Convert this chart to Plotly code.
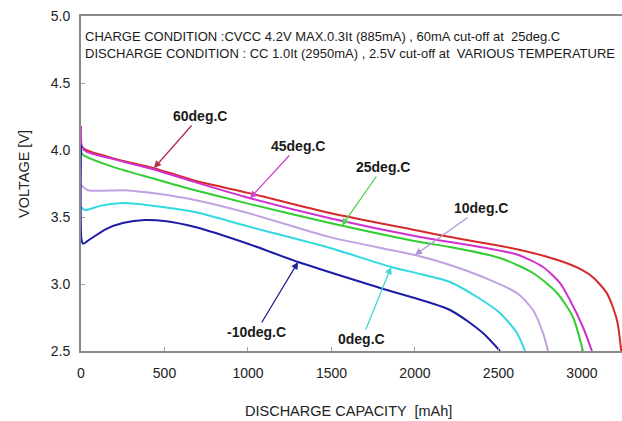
import numpy as np
import plotly.graph_objects as go

# ---------------- data ----------------
labels = ["60deg.C", "45deg.C", "25deg.C", "10deg.C", "0deg.C", "-10deg.C"]

cap_60 = [0, 30, 200, 437, 683, 1000, 1491, 2030, 2210, 2611, 2800, 2911, 3000, 3066, 3150, 3210, 3235]
v_60 = [4.03, 4.00, 3.935, 3.865, 3.77, 3.68, 3.53, 3.395, 3.35, 3.26, 3.20, 3.155, 3.105, 3.05, 2.93, 2.73, 2.50]

cap_45 = [0, 5, 30, 200, 437, 683, 1012, 1491, 2030, 2210, 2611, 2767, 2869, 2928, 3006, 3060]
v_45 = [4.18, 4.03, 3.99, 3.93, 3.855, 3.76, 3.64, 3.49, 3.35, 3.313, 3.22, 3.127, 3.007, 2.881, 2.679, 2.50]

cap_25 = [0, 10, 30, 200, 437, 683, 1000, 1491, 2030, 2210, 2509, 2707, 2851, 2946, 3006]
v_25 = [3.99, 3.965, 3.95, 3.87, 3.785, 3.70, 3.60, 3.455, 3.313, 3.276, 3.194, 3.082, 2.933, 2.754, 2.50]

cap_10 = [0, 42, 263, 450, 683, 1000, 1491, 2000, 2210, 2407, 2611, 2707, 2767, 2797]
v_10 = [3.74, 3.70, 3.70, 3.675, 3.627, 3.53, 3.35, 3.216, 3.142, 3.052, 2.933, 2.806, 2.634, 2.50]

cap_0 = [0, 24, 120, 263, 450, 683, 1000, 1491, 1857, 2030, 2210, 2372, 2509, 2611, 2659]
v_0 = [3.575, 3.552, 3.585, 3.604, 3.58, 3.537, 3.43, 3.269, 3.127, 3.075, 3.015, 2.903, 2.784, 2.634, 2.50]

cap_m10 = [0, 3, 12, 50, 150, 250, 383, 500, 683, 1000, 1300, 1791, 2210, 2407, 2509]
v_m10 = [4.04, 3.33, 3.30, 3.33, 3.41, 3.455, 3.478, 3.47, 3.425, 3.30, 3.164, 2.97, 2.806, 2.634, 2.50]

x_ticks = [0, 500, 1000, 1500, 2000, 2500, 3000]
y_ticks = [2.5, 3.0, 3.5, 4.0, 4.5, 5.0]

header_lines = [
    "CHARGE CONDITION :CVCC 4.2V MAX.0.3It (885mA) , 60mA cut-off at  25deg.C",
    "DISCHARGE CONDITION : CC 1.0It (2950mA) , 2.5V cut-off at  VARIOUS TEMPERATURE",
]
x_title = "DISCHARGE CAPACITY  [mAh]"
y_title = "VOLTAGE [V]"

# ---------------- layout / style ----------------
W, H = 622, 421
ML, MR, MT = 81, 0, 16
PH = 335
MB = H - MT - PH
X_MAX = 3240
Y_MIN, Y_MAX = 2.5, 5.0
PW = W - ML - MR
SX = PW / X_MAX
SY = PH / (Y_MAX - Y_MIN)

FONT = "Liberation Sans, Arial, Helvetica, sans-serif"

colors = ["#d42a2a", "#d030d0", "#33cc33", "#c0a2e2", "#33d8e0", "#1c1ca8"]
arrow_colors = ["#b23048", "#cc44cc", "#55cc55", "#b094d4", "#44d4d8", "#24249a"]
caps = [cap_60, cap_45, cap_25, cap_10, cap_0, cap_m10]
volts = [v_60, v_45, v_25, v_10, v_0, v_m10]

# arrow tip capacity on each curve, label centre in pixels
tips = [437, 1012, 1563, 2000, 1857, 1300]
label_px = [(200, 116), (298, 146), (383, 167), (481, 208), (362, 339), (256, 332)]

fig = go.Figure()
for name, c, v, col in zip(labels, caps, volts, colors):
    fig.add_trace(go.Scatter(
        x=c, y=v, mode="lines", name=name,
        line=dict(color=col, width=2, shape="spline", smoothing=0.7),
        hoverinfo="x+y+name",
    ))

annotations = []
for name, c, v, tip, (lx, ly), acol in zip(labels, caps, volts, tips, label_px, arrow_colors):
    ty = float(np.interp(tip, c, v))
    tpx = ML + tip * SX
    tpy = MT + (Y_MAX - ty) * SY
    annotations.append(dict(
        x=tip, y=ty, xref="x", yref="y",
        ax=lx - tpx, ay=ly - tpy,
        text="<b>" + name + "</b>",
        showarrow=True, arrowhead=2, arrowsize=1.1, arrowwidth=1.3,
        arrowcolor=acol, font=dict(family=FONT, size=14, color="#1a1a1a"),
    ))

def paper_x(px):
    return (px - ML) / PW

def paper_y(py):
    return (H - MB - py) / PH

for i, line in enumerate(header_lines):
    annotations.append(dict(
        x=paper_x(83), y=paper_y(37 + 16 * i), xref="paper", yref="paper",
        xanchor="left", yanchor="middle", showarrow=False,
        text=line, font=dict(family=FONT, size=13, color="#1a1a1a"),
    ))

annotations.append(dict(
    x=paper_x(348), y=paper_y(411), xref="paper", yref="paper",
    xanchor="center", yanchor="middle", showarrow=False,
    text=x_title, font=dict(family=FONT, size=14.5, color="#222"),
))
annotations.append(dict(
    x=paper_x(24), y=paper_y(174), xref="paper", yref="paper",
    xanchor="center", yanchor="middle", showarrow=False, textangle=-90,
    text=y_title, font=dict(family=FONT, size=14.5, color="#222"),
))

fig.update_layout(
    width=W, height=H,
    margin=dict(l=ML, r=MR, t=MT, b=MB, pad=0),
    paper_bgcolor="white", plot_bgcolor="white",
    showlegend=False,
    annotations=annotations,
    xaxis=dict(
        range=[0, X_MAX], tickmode="array", tickvals=x_ticks,
        ticks="inside", ticklen=4, tickcolor="#a0a0a0", tickwidth=1,
        showline=True, linecolor="#8a8a8a", linewidth=2, mirror=True,
        showgrid=False, zeroline=False,
        tickfont=dict(family=FONT, size=14, color="#222"),
        ticklabelstandoff=8, ticklabeloverflow="allow",
    ),
    yaxis=dict(
        range=[Y_MIN, Y_MAX], tickmode="array", tickvals=y_ticks,
        tickformat=".1f",
        ticks="inside", ticklen=4, tickcolor="#a0a0a0", tickwidth=1,
        showline=True, linecolor="#8a8a8a", linewidth=2, mirror=False,
        showgrid=False, zeroline=False, layer="below traces",
        tickfont=dict(family=FONT, size=14, color="#222"),
        ticklabelstandoff=6, ticklabeloverflow="allow",
    ),
)

fig.write_html(
    "out.html",
    config={"displayModeBar": False},
    post_script="document.body.style.margin='0';document.body.style.overflow='hidden';",
)
